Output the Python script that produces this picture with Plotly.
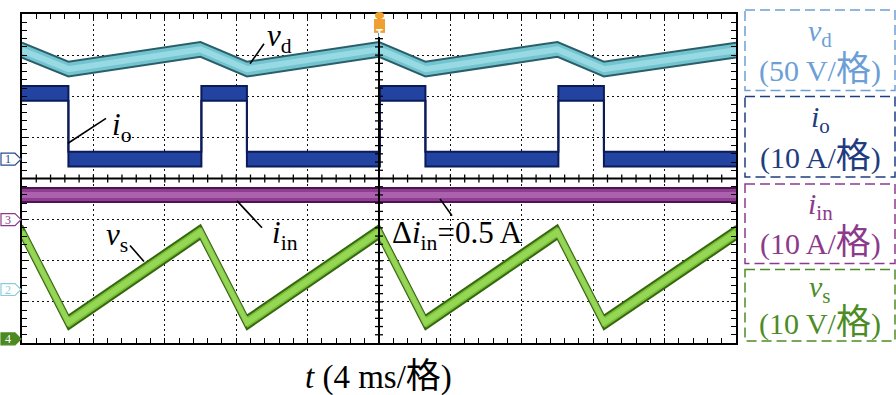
import plotly.graph_objects as go

# ---------------- data ----------------
t_ms = [0.0, 2.6, 10.0, 12.6, 20.0, 22.6, 30.0, 32.6, 40.0]        # corner instants (ms)
vd_V = [291, 268, 292, 268, 292, 268, 292, 268, 291]               # v_d corner values (V)
t_io_ms = [0.0, 2.6, 10.05, 12.6, 20.05, 22.6, 30.05, 32.6, 40.0]  # i_o switching instants (ms)
io_A = [16, 0, 16, 0, 16, 0, 16, 0, 0]                             # i_o level held after each instant (A)
t_in_ms = [0.0, 40.0]
iin_A = [6.0, 6.0]                                                 # i_in (A)
vs_V = [26, 4, 26, 4, 26, 4, 26, 4, 25.8]                          # v_s corner values (V)
# peak-to-peak width of the noise band on each trace
vd_band_V = 18.0
io_band_A = 3.6
iin_band_A = 3.4
vs_band_V = 3.3
# channel scales (per division) and zero-level positions (divisions from bottom)
scale = {"vd": 50, "io": 10, "iin": 10, "vs": 10}
zero_div = {"vd": 1.3, "io": 4.47, "iin": 3.0, "vs": 0.1}

# ---------------- layout geometry ----------------
W, H = 896, 395
L, R, T, B = 22, 736, 12, 343
NDIV_Y = 8
T_SPAN = 40.0
SERIF = "Liberation Serif, Times New Roman, Noto Sans CJK SC, serif"


def px(x):
    return (x - L) / (R - L)


def py(y):
    return (B - y) / (B - T)


def to_div(vals, ch):
    return [zero_div[ch] + v / scale[ch] for v in vals]


fig = go.Figure()


def band(t, v, band_pp, ch, edge, fill, core=None, shape="linear"):
    c = to_div(v, ch)
    half = band_pp / scale[ch] / 2
    lo = [a - half for a in c]
    hi = [a + half for a in c]
    fig.add_trace(go.Scatter(x=t, y=lo, mode="lines",
                             line=dict(color=edge, width=2, shape=shape),
                             hoverinfo="skip", showlegend=False))
    fig.add_trace(go.Scatter(x=t, y=hi, mode="lines", fill="tonexty",
                             fillcolor=fill, line=dict(color=edge, width=2, shape=shape),
                             hoverinfo="skip", showlegend=False))
    if core:
        fig.add_trace(go.Scatter(x=t, y=c, mode="lines",
                                 line=dict(color=core, width=6, shape=shape),
                                 opacity=0.8, hoverinfo="skip", showlegend=False))


band(t_ms, vd_V, vd_band_V, "vd", "#2a5f6a", "#74c4d0", "#a0e0e8")
band(t_io_ms, io_A, io_band_A, "io", "#0b1a58", "#2244a0", shape="hv")
band(t_in_ms, iin_A, iin_band_A, "iin", "#4d1450", "#8e3e90", "#b36ab5")
band(t_ms, vs_V, vs_band_V, "vs", "#386610", "#76c035", "#9ddc5e")

grid = dict(showgrid=True, gridcolor="#111111", griddash="2px,3px", gridwidth=1.4,
            zeroline=False, showticklabels=False, showline=True, linecolor="black",
            linewidth=2, mirror="ticks", ticks="inside", ticklen=5, tickwidth=1.3,
            tickcolor="black")

fig.update_layout(
    width=W, height=H, margin=dict(l=L, r=W - R, t=T, b=H - B),
    paper_bgcolor="white", plot_bgcolor="white", showlegend=False,
    xaxis=dict(range=[0, T_SPAN], dtick=4, tick0=0,
               minor=dict(dtick=0.8, ticks="inside", ticklen=5, tickwidth=1.3,
                          tickcolor="black", showgrid=False), **grid),
    yaxis=dict(range=[0, NDIV_Y], dtick=1, tick0=0,
               minor=dict(dtick=0.2, ticks="inside", ticklen=5, tickwidth=1.3,
                          tickcolor="black", showgrid=False), **grid),
)

ann = []
shapes = []

# solid centre cross with its small ticks
shapes.append(dict(type="line", xref="x", yref="paper", x0=T_SPAN / 2, x1=T_SPAN / 2,
                   y0=0, y1=1, line=dict(color="black", width=2)))
shapes.append(dict(type="line", xref="paper", yref="y", x0=0, x1=1,
                   y0=NDIV_Y / 2, y1=NDIV_Y / 2, line=dict(color="black", width=2)))
hx = 4 / (R - L)
hy = 4 / (B - T)
for k in range(1, 40):
    yk = k * 0.2
    shapes.append(dict(type="line", xref="paper", yref="y", x0=0.5 - hx, x1=0.5 + hx,
                       y0=yk, y1=yk, line=dict(color="black", width=1.3)))
for k in range(1, 50):
    xk = k * 0.8
    shapes.append(dict(type="line", xref="x", yref="paper", x0=xk, x1=xk,
                       y0=0.5 - hy, y1=0.5 + hy, line=dict(color="black", width=1.3)))


def text(x, y, s, size, color="black", xanchor="center", yanchor="middle"):
    ann.append(dict(x=px(x), y=py(y), xref="paper", yref="paper", text=s, showarrow=False,
                    xanchor=xanchor, yanchor=yanchor,
                    font=dict(family=SERIF, size=size, color=color)))


def seg(x0, y0, x1, y1, color="black", width=1.6):
    shapes.append(dict(type="line", xref="paper", yref="paper", x0=px(x0), y0=py(y0),
                       x1=px(x1), y1=py(y1), line=dict(color=color, width=width)))


GE = '<span style="font-size:35px">格</span>'

# trace labels with leader lines
text(279, 36, "<i>v</i><sub>d</sub>", 31)
seg(250, 62, 264, 42)
text(122, 126, "<i>i</i><sub>o</sub>", 31)
seg(68, 142, 106, 117)
text(117, 236, "<i>v</i><sub>s</sub>", 31)
seg(130, 245, 144, 261)
text(285, 234, "<i>i</i><sub>in</sub>", 31)
seg(237, 200, 262, 227)
text(390, 234, "Δ<i>i</i><sub>in</sub>=0.5 A", 31, xanchor="left")
seg(440, 198, 452, 215)
text(378, 377, "<i>t</i> (4 ms/" + GE + ")", 33)

# right-hand dashed legend boxes
boxes = [
    ("<i>v</i><sub>d</sub>", "(50 V/" + GE + ")", "#6d9fd6", 8, 89),
    ("<i>i</i><sub>o</sub>", "(10 A/" + GE + ")", "#1f3c80", 95, 176),
    ("<i>i</i><sub>in</sub>", "(10 A/" + GE + ")", "#8c3a8c", 183, 263),
    ("<i>v</i><sub>s</sub>", "(10 V/" + GE + ")", "#4c8c24", 269, 341),
]
for l1, l2, col, y0, y1 in boxes:
    shapes.append(dict(type="rect", xref="paper", yref="paper", x0=px(745), x1=px(895),
                       y0=py(y0), y1=py(y1), line=dict(color=col, width=1.5, dash="10px,5px")))
    h = y1 - y0
    text(820, y0 + 0.28 * h, l1, 30, col)
    text(820, y0 + 0.74 * h, l2, 30, col)

# channel zero-level markers on the left edge
markers = [("1", "io", "#2a4a8c", "white", "#2a4a8c"),
           ("3", "iin", "#8a3a8a", "white", "#8a3a8a"),
           ("2", "vd", "#8ccbdb", "white", "#8ccbdb"),
           ("4", "vs", "#4a8a20", "#4a8a20", "white")]
for lab, ch, edge, fillc, tc in markers:
    yy = B - zero_div[ch] * (B - T) / NDIV_Y
    path = (f"M {px(1)},{py(yy-6)} L {px(15)},{py(yy-6)} L {px(21)},{py(yy)} "
            f"L {px(15)},{py(yy+6)} L {px(1)},{py(yy+6)} Z")
    shapes.append(dict(type="path", xref="paper", yref="paper", path=path,
                       fillcolor=fillc, line=dict(color=edge, width=1.2)))
    text(8, yy, lab, 12, tc)

# trigger marker at top centre
shapes.append(dict(type="circle", xref="paper", yref="paper", x0=px(375), x1=px(384),
                   y0=py(17), y1=py(10), fillcolor="#f0a030", line=dict(width=0)))
shapes.append(dict(type="rect", xref="paper", yref="paper", x0=px(374), x1=px(385),
                   y0=py(31), y1=py(17), fillcolor="#f0a030", line=dict(width=0)))
ann.append(dict(x=px(379.5), y=py(24), xref="paper", yref="paper", text="<b>T</b>",
                showarrow=False, font=dict(family="DejaVu Sans", size=10, color="white")))

fig.update_layout(annotations=ann, shapes=shapes)
fig.write_html("out.html", config={"displayModeBar": False},
               post_script="document.body.style.margin='0';")
